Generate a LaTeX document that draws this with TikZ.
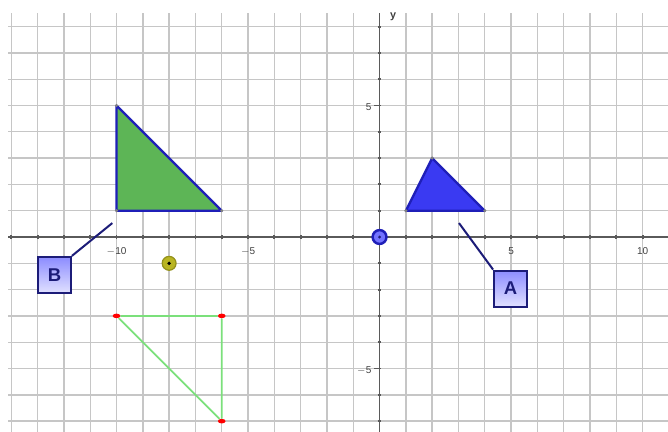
\documentclass[tikz,border=0pt]{standalone}
\usepackage{fontspec}
\setmainfont{Liberation Sans}
\definecolor{gridgray}{HTML}{C6C6C6}
\definecolor{axisgray}{HTML}{5A5A5A}
\definecolor{greenfill}{HTML}{5DB556}
\definecolor{triborder}{HTML}{1F1FB8}
\definecolor{bluefill}{HTML}{3A3AF2}
\definecolor{navy}{HTML}{1C1C78}
\definecolor{lightgreen}{HTML}{7BE07B}
\definecolor{olive}{HTML}{B9B522}
\tikzset{
  gridline/.style={gridgray, line width=0.9pt},
  axisline/.style={axisgray, line width=1pt},
  axislabel/.style={text=black!75, font=\fontsize{6.5}{7}\selectfont, inner sep=0pt},
  labelbox/.style={draw=navy, line width=1.3pt, top color=blue!45!white, bottom color=blue!12!white,
    minimum width=0.75cm, minimum height=0.82cm, inner sep=0pt, text=navy,
    font=\fontsize{12}{14}\selectfont\bfseries},
  pointer/.style={navy, line width=1.3pt},
  vdot/.style={circle, fill=gray, inner sep=0pt, minimum size=2.2pt},
  reddot/.style={ellipse, fill=red, inner sep=0pt, minimum width=5pt, minimum height=3pt},
}
\usetikzlibrary{shapes.geometric}
\begin{document}
\begin{tikzpicture}[x=0.6cm,y=0.6cm]
\useasboundingbox (-14.43,-7.376) rectangle (10.966,9.011);
\clip (-14.43,-7.376) rectangle (10.966,9.011);
% grid
\draw[gridline, step=1] (-14.12,-7.5) grid (11.2,8.52);
% axes
\draw[axisline] (-14.12,0) -- (11.2,0);
\draw[axisline] (0,-7.5) -- (0,8.52);
\foreach \i in {-14,...,10} { \draw[axisgray, line width=1.2pt] (\i,-0.07) -- (\i,0.07); }
\foreach \j in {-7,...,8} { \draw[axisgray, line width=1.2pt] (-0.07,\j) -- (0.07,\j); }
\draw[axisgray, line width=1pt] (-0.2,5) -- (0,5);
\draw[axisgray, line width=1pt] (-0.2,-5) -- (0,-5);
% axis labels
\node[axislabel] (xm10) at (-10,-0.55) {$-$10};
\node[axislabel] (xm5) at (-5,-0.55) {$-$5};
\node[axislabel] (x5) at (5,-0.55) {5};
\node[axislabel] (x10) at (10,-0.55) {10};
\node[axislabel, anchor=east] (y5) at (-0.3,4.93) {5};
\node[axislabel, anchor=east] (ym5) at (-0.3,-5.07) {$-$5};
\node[axislabel, font=\fontsize{7}{8}\selectfont\bfseries] (ylab) at (0.52,8.37) {y};
% green triangle
\coordinate (g1) at (-10,5);
\coordinate (g2) at (-10,1);
\coordinate (g3) at (-6,1);
\filldraw[fill=greenfill, draw=triborder, line width=1.5pt, line join=round] (g1) -- (g2) -- (g3) -- cycle;
\foreach \p in {g1,g2,g3} { \node[vdot] at (\p) {}; }
% blue triangle
\coordinate (b1) at (1,1);
\coordinate (b2) at (2,3);
\coordinate (b3) at (4,1);
\filldraw[fill=bluefill, draw=triborder, line width=1.5pt, line join=round] (b1) -- (b2) -- (b3) -- cycle;
\foreach \p in {b1,b2,b3} { \node[vdot] at (\p) {}; }
% outline triangle
\node[reddot] (r1) at (-10,-3) {};
\node[reddot] (r2) at (-6,-3) {};
\node[reddot] (r3) at (-6,-7) {};
\draw[lightgreen, line width=1.1pt] (r1) -- (r2) -- (r3) -- (r1);
% points
\node[circle, draw=triborder, line width=1.6pt, fill=blue!55!white, minimum size=9pt, inner sep=0pt] (O) at (0,0) {};
\node[circle, fill=navy, minimum size=2pt, inner sep=0pt] at (O) {};
\node[circle, draw=olive!80!black, line width=0.8pt, fill=olive, minimum size=9pt, inner sep=0pt] (P) at (-8,-1) {};
\node[circle, fill=black, minimum size=2.5pt, inner sep=0pt] at (P) {};
% labels
\node[labelbox] (B) at (-12.36,-1.44) {B};
\coordinate (Bend) at (-10.16,0.53);
\draw[pointer] (B.north east) -- (Bend);
\node[labelbox] (A) at (4.98,-1.96) {A};
\coordinate (Aend) at (3.02,0.53);
\draw[pointer] (A.north west) -- (Aend);
\end{tikzpicture}
\end{document}
